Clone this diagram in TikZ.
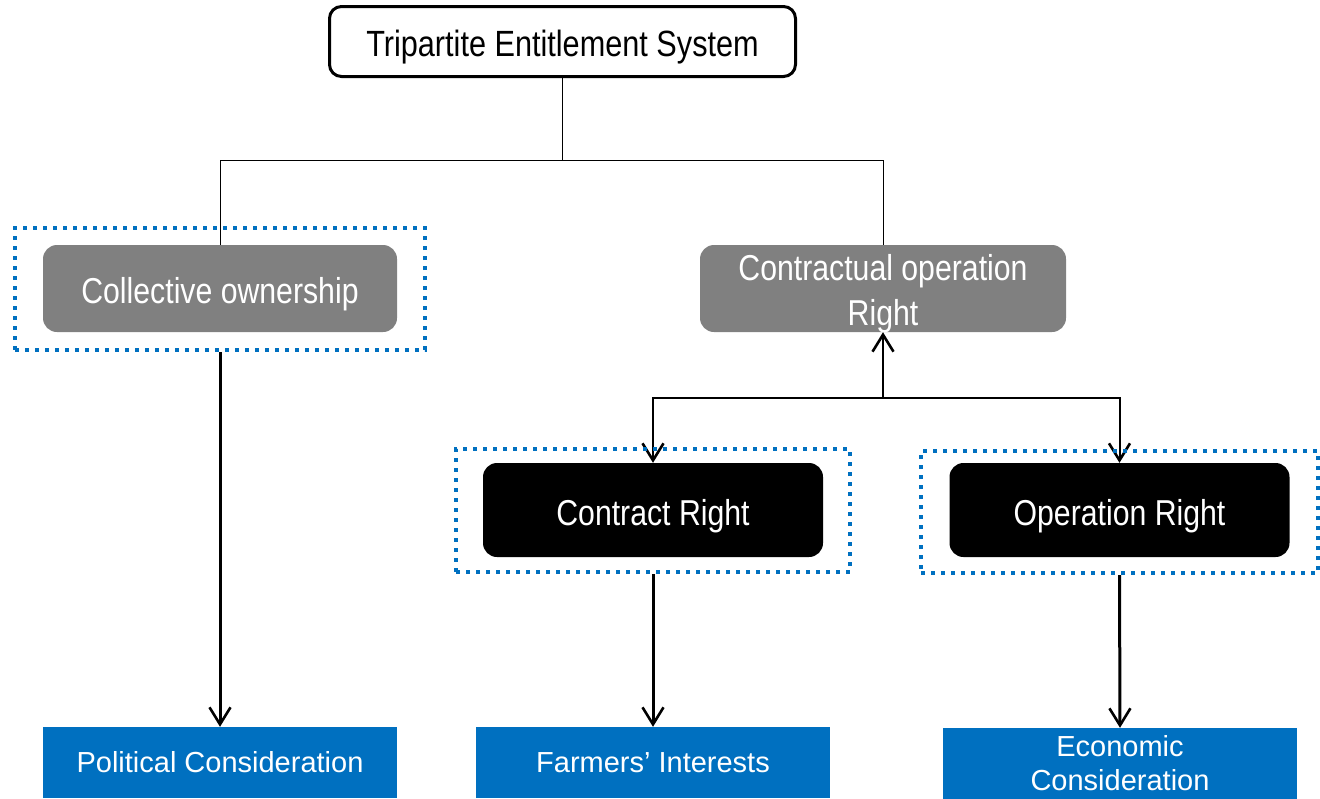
\documentclass[tikz,border=0pt]{standalone}
\usepackage{fontspec}
\setmainfont{Liberation Sans}
\newfontfamily\narrowfont[FakeStretch=0.84]{Liberation Sans}
\usepackage{tikz}
\usetikzlibrary{arrows.meta}
\definecolor{boxgray}{HTML}{808080}
\definecolor{boxblue}{HTML}{0070C0}

\begin{document}
\begin{tikzpicture}[x=1pt,y=-1pt,
	>={Straight Barb[length=17pt,width=21pt,line width=2.6pt]},
	topbox/.style={draw,line width=3pt,rounded corners=12pt,minimum width=466pt,minimum height=70pt,text height=29pt,text depth=0pt,font=\narrowfont\fontsize{36.5}{40}\selectfont},
	graybox/.style={fill=boxgray,text=white,rounded corners=14pt,minimum height=87pt,align=center,font=\narrowfont\fontsize{36}{45}\selectfont},
	blackbox/.style={fill=black,text=white,rounded corners=14pt,minimum width=340pt,minimum height=94pt,text height=31pt,text depth=0pt,font=\narrowfont\fontsize{36}{40}\selectfont},
	bluebox/.style={fill=boxblue,text=white,minimum width=354pt,minimum height=71pt,align=center,font=\fontsize{29}{34}\selectfont},
	dotframe/.style={draw=boxblue,line width=4pt,dash pattern=on 4pt off 6pt,inner sep=0pt}]
	\useasboundingbox (0,0) rectangle (1320,798);
	% top of the tree
	\node [topbox] (tes) at (562.5,41.5) {Tripartite Entitlement System};
	\node [graybox,minimum width=354pt,text height=29pt,text depth=0pt] (coll) at (220,288.5) {Collective ownership};
	\node [graybox,minimum width=366pt,text height=73pt,text depth=0pt] (cont) at (883,288.5) {Contractual operation\\Right};
	\coordinate (split) at (562.5,160);
	\draw [line width=1pt] (tes.south) -- (split) -| (coll.north);
	\draw [line width=1pt] (split) -| (cont.north);
	% the two rights
	\node [blackbox] (cr) at (653,510) {Contract Right};
	\node [blackbox] (or) at (1119.5,510) {Operation Right};
	\coordinate (fork) at (883,398);
	\draw [->,line width=2pt] (fork) -- (cont.south);
	\draw [->,line width=2pt] (fork) -| (cr.north);
	\draw [->,line width=2pt] (fork) -| (or.north);
	% dotted frames
	\node [dotframe,minimum width=410pt,minimum height=122pt] (collf) at (220,289) {};
	\node [dotframe,minimum width=394pt,minimum height=123pt] (crf) at (653,510.5) {};
	\node [dotframe,minimum width=397pt,minimum height=122pt] (orf) at (1119.5,512) {};
	% considerations
	\node [bluebox] (pol) at (220,762.5) {Political Consideration};
	\node [bluebox] (farm) at (653,762.5) {Farmers’ Interests};
	\node [bluebox] (eco) at (1120,763.5) {Economic\\Consideration};
	\draw [->,line width=3pt] (collf.south) -- (pol.north);
	\draw [->,line width=3pt] (crf.south) -- (farm.north);
	\draw [->,line width=3pt] (orf.south) -- (eco.north);
\end{tikzpicture}
\end{document}
